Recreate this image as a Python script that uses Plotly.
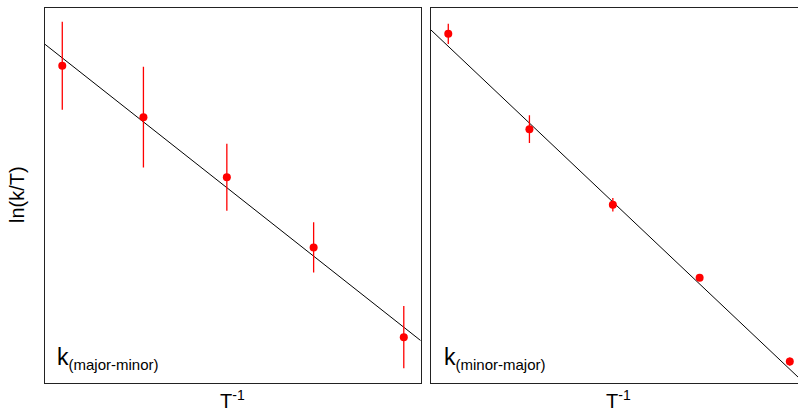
import plotly.graph_objects as go

# T^-1 (normalised, arbitrary units) - same temperatures in both panels
inv_T = [0.046, 0.262, 0.484, 0.715, 0.955]

# k(major-minor)
ln_kT_major_minor = [0.845, 0.708, 0.548, 0.361, 0.122]
err_major_minor = [0.117, 0.134, 0.089, 0.067, 0.083]
fit_x_major_minor = [0.0, 1.0]
fit_y_major_minor = [0.902, 0.113]

# k(minor-major)
ln_kT_minor_major = [0.930, 0.676, 0.475, 0.280, 0.057]
err_minor_major = [0.027, 0.037, 0.018, 0.008, 0.011]
fit_x_minor_major = [0.0, 1.0]
fit_y_minor_major = [0.940, -0.006]

panel_labels = ["(major-minor)", "(minor-major)"]

W, H = 798, 412
fig = go.Figure()

red = "#ff0000"

fig.add_trace(go.Scatter(x=fit_x_major_minor, y=fit_y_major_minor, mode="lines",
                         line=dict(color="black", width=1), xaxis="x", yaxis="y",
                         showlegend=False, hoverinfo="skip"))
fig.add_trace(go.Scatter(x=inv_T, y=ln_kT_major_minor, mode="markers",
                         marker=dict(color=red, size=8),
                         error_y=dict(type="data", array=err_major_minor, color=red,
                                      thickness=1.3, width=0),
                         xaxis="x", yaxis="y", showlegend=False))

fig.add_trace(go.Scatter(x=fit_x_minor_major, y=fit_y_minor_major, mode="lines",
                         line=dict(color="black", width=1), xaxis="x2", yaxis="y2",
                         showlegend=False, hoverinfo="skip"))
fig.add_trace(go.Scatter(x=inv_T, y=ln_kT_minor_major, mode="markers",
                         marker=dict(color=red, size=8),
                         error_y=dict(type="data", array=err_minor_major, color=red,
                                      thickness=1.3, width=0),
                         xaxis="x2", yaxis="y2", showlegend=False))

left_x0, left_x1 = 45 / W, 420.7 / W
right_x0 = 431 / W
y0, y1 = (H - 383) / H, (H - 7.5) / H
panel_w = 375.7
right_visible = (W - 431) / panel_w

ax_common = dict(showgrid=False, zeroline=False, showticklabels=False, ticks="",
                 showline=True, linecolor="#222", linewidth=1.2)

fig.update_layout(
    width=W, height=H,
    margin=dict(l=0, r=0, t=0, b=0),
    paper_bgcolor="white", plot_bgcolor="white",
    font=dict(family="Liberation Sans, Arial, sans-serif", color="black"),
    xaxis=dict(domain=[left_x0, left_x1], range=[0, 1], mirror=True, anchor="y", **ax_common),
    yaxis=dict(domain=[y0, y1], range=[0, 1], mirror=True, anchor="x", **ax_common),
    xaxis2=dict(domain=[right_x0, 1], range=[0, right_visible], mirror=True, anchor="y2", **ax_common),
    yaxis2=dict(domain=[y0, y1], range=[0, 1], mirror=False, anchor="x2", **ax_common),
)

annos = []
# y axis title
annos.append(dict(text="ln(k/T)", x=17 / W, y=(H - 195) / H, xref="paper", yref="paper",
                  textangle=-90, showarrow=False, font=dict(size=20),
                  xanchor="center", yanchor="middle"))
# x axis titles
for cx in [(45 + 420.7) / 2, (431 + 806.7) / 2]:
    annos.append(dict(text="T<sup>-1</sup>", x=cx / W, y=(H - 399) / H, xref="paper", yref="paper",
                      showarrow=False, font=dict(size=20), xanchor="center", yanchor="middle"))
# panel labels
for lx, lab in zip([55, 441.5], panel_labels):
    annos.append(dict(text="k<sub><span style='font-size:15px'>" + lab + "</span></sub>",
                      x=lx / W, y=(H - 375) / H, xref="paper", yref="paper",
                      showarrow=False, font=dict(size=23), xanchor="left", yanchor="bottom"))
fig.update_layout(annotations=annos)

fig.write_html("out.html")
